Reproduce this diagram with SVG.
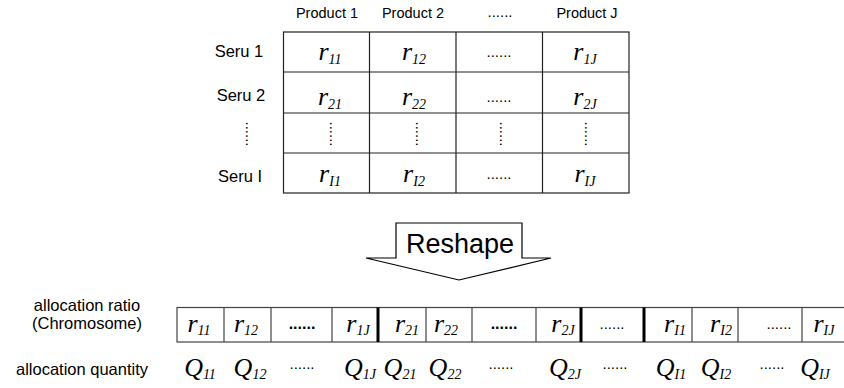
<svg xmlns="http://www.w3.org/2000/svg" width="844" height="388" viewBox="0 0 844 388">
  <style>
    .lbl { font-family: "Liberation Sans", Arial, sans-serif; font-size: 16.5px; fill: #000; }
    .hd { font-family: "Liberation Sans", Arial, sans-serif; font-size: 14.5px; fill: #000; }
    .dots { font-family: "Liberation Sans", Arial, sans-serif; font-size: 15px; fill: #000; text-anchor: middle; }
    .bdots { font-family: "Liberation Sans", Arial, sans-serif; font-size: 16px; font-weight: bold; fill: #000; text-anchor: middle; }
    .v { font-family: "Liberation Serif", "Times New Roman", serif; font-style: italic; font-size: 26px; fill: #000; text-anchor: middle; }
    .v tspan { font-size: 14px; }
    .grid { fill: none; stroke: #222; stroke-width: 1.2; }
    .thin { stroke: #444; stroke-width: 1.2; }
    .thick { stroke: #000; stroke-width: 3; }
  </style>

  <!-- allocation ratio matrix: Seru rows x Product columns -->
  <g id="matrix">
    <text class="hd" x="327" y="18" text-anchor="middle">Product 1</text>
    <text class="hd" x="413" y="18" text-anchor="middle">Product 2</text>
    <text class="dots" x="500" y="17">......</text>
    <text class="hd" x="587" y="18" text-anchor="middle">Product J</text>

    <text class="lbl" x="239" y="57" text-anchor="middle">Seru 1</text>
    <text class="lbl" x="241" y="101" text-anchor="middle">Seru 2</text>
    <text class="dots" transform="translate(246,122) rotate(90)" x="12" y="0">......</text>
    <text class="lbl" x="240" y="182" text-anchor="middle">Seru I</text>

    <rect class="grid" x="283.5" y="32" width="345.5" height="161"/>
    <path class="grid" d="M283.5 72H629M283.5 113H629M283.5 153H629M369.5 32V193M456 32V193M542.5 32V193"/>

    <text class="v" x="330" y="60">r<tspan dy="4">11</tspan></text>
    <text class="v" x="414" y="60">r<tspan dy="4">12</tspan></text>
    <text class="dots" x="499" y="57">......</text>
    <text class="v" x="585" y="60">r<tspan dy="4">1J</tspan></text>

    <text class="v" x="330" y="105">r<tspan dy="4">21</tspan></text>
    <text class="v" x="414" y="105">r<tspan dy="4">22</tspan></text>
    <text class="dots" x="499" y="102">......</text>
    <text class="v" x="585" y="105">r<tspan dy="4">2J</tspan></text>

    <text class="dots" transform="translate(330,122) rotate(90)" x="12" y="0">......</text>
    <text class="dots" transform="translate(416,122) rotate(90)" x="12" y="0">......</text>
    <text class="dots" transform="translate(500,122) rotate(90)" x="12" y="0">......</text>
    <text class="dots" transform="translate(585,122) rotate(90)" x="12" y="0">......</text>

    <text class="v" x="330" y="182">r<tspan dy="4">I1</tspan></text>
    <text class="v" x="414" y="182">r<tspan dy="4">I2</tspan></text>
    <text class="dots" x="499" y="179">......</text>
    <text class="v" x="585" y="182">r<tspan dy="4">IJ</tspan></text>
  </g>

  <!-- reshape block arrow -->
  <g id="reshape">
    <path d="M396 223H522V258H551L459 280L366 258H396Z" fill="#fff" stroke="#000" stroke-width="1.2" stroke-linejoin="miter"/>
    <text x="460" y="253" text-anchor="middle" font-family="Liberation Sans, Arial, sans-serif" font-size="27">Reshape</text>
  </g>

  <!-- chromosome: rows of the matrix laid end to end -->
  <g id="chromosome">
    <text class="lbl" x="87" y="311" text-anchor="middle">allocation  ratio</text>
    <text class="lbl" x="87" y="329" text-anchor="middle">(Chromosome)</text>
    <rect class="thin" x="177" y="307.5" width="680" height="34.5" fill="none"/>
    <path class="thin" d="M224 307.5V342M271 307.5V342M332 307.5V342M426 307.5V342M472 307.5V342M536 307.5V342M692 307.5V342M738 307.5V342M802 307.5V342"/>
    <path class="thick" d="M378 307.5V342M581 307.5V342M644 307.5V342"/>

    <text class="v" x="199" y="332">r<tspan dy="3">11</tspan></text>
    <text class="v" x="246" y="332">r<tspan dy="3">12</tspan></text>
    <text class="bdots" x="302" y="329">......</text>
    <text class="v" x="358" y="332">r<tspan dy="3">1J</tspan></text>
    <text class="v" x="407" y="332">r<tspan dy="3">21</tspan></text>
    <text class="v" x="446" y="332">r<tspan dy="3">22</tspan></text>
    <text class="bdots" x="504" y="329">......</text>
    <text class="v" x="563" y="332">r<tspan dy="3">2J</tspan></text>
    <text class="dots" x="612" y="329">......</text>
    <text class="v" x="675" y="332">r<tspan dy="3">I1</tspan></text>
    <text class="v" x="721" y="332">r<tspan dy="3">I2</tspan></text>
    <text class="dots" x="779" y="329">......</text>
    <text class="v" x="824" y="332">r<tspan dy="3">IJ</tspan></text>
  </g>

  <!-- allocation quantities under each gene -->
  <g id="quantity">
    <text class="lbl" x="82" y="375" text-anchor="middle">allocation quantity</text>
    <text class="v" x="200" y="376">Q<tspan dy="3">11</tspan></text>
    <text class="v" x="250" y="376">Q<tspan dy="3">12</tspan></text>
    <text class="dots" x="302" y="369">......</text>
    <text class="v" x="360" y="376">Q<tspan dy="3">1J</tspan></text>
    <text class="v" x="400" y="376">Q<tspan dy="3">21</tspan></text>
    <text class="v" x="445" y="376">Q<tspan dy="3">22</tspan></text>
    <text class="dots" x="501" y="369">......</text>
    <text class="v" x="565" y="376">Q<tspan dy="3">2J</tspan></text>
    <text class="dots" x="615" y="369">......</text>
    <text class="v" x="671" y="376">Q<tspan dy="3">I1</tspan></text>
    <text class="v" x="716" y="376">Q<tspan dy="3">I2</tspan></text>
    <text class="dots" x="772" y="369">......</text>
    <text class="v" x="815" y="376">Q<tspan dy="3">IJ</tspan></text>
  </g>
</svg>
